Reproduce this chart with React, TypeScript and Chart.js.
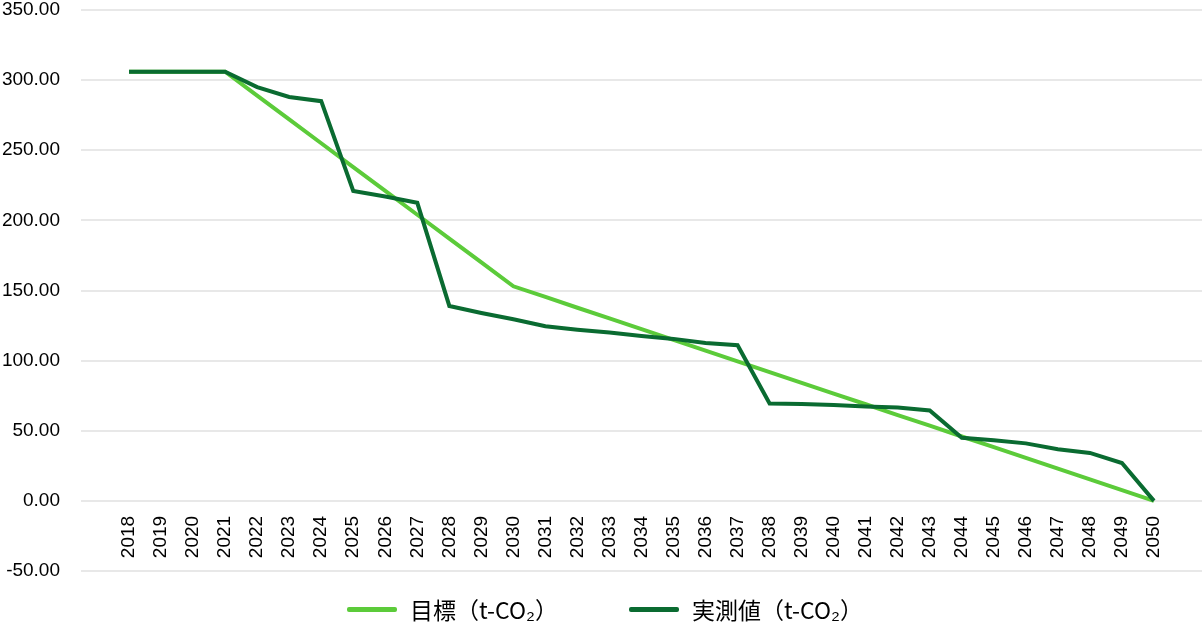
import React, { useEffect, useRef } from 'react';
import { Chart, registerables } from 'chart.js';

Chart.register(...registerables);

const years = [
  2018, 2019, 2020, 2021, 2022, 2023, 2024, 2025, 2026, 2027, 2028,
  2029, 2030, 2031, 2032, 2033, 2034, 2035, 2036, 2037, 2038, 2039,
  2040, 2041, 2042, 2043, 2044, 2045, 2046, 2047, 2048, 2049, 2050,
];

const targetValues = [
  306, 306, 306, 306, 289, 272, 255, 238, 221, 204, 187,
  170, 153, 145.4, 137.7, 130.1, 122.4, 114.8, 107.1, 99.5, 91.8, 84.2,
  76.5, 68.9, 61.2, 53.6, 45.9, 38.3, 30.6, 23.0, 15.3, 7.7, 0,
];

const actualValues = [
  306, 306, 306, 306, 295, 288, 285, 221, 217, 212.5, 139,
  134, 129.5, 124.5, 122, 120, 117.5, 115.5, 112.5, 111, 69.5, 69,
  68.3, 67.3, 66.5, 64.5, 45, 43.3, 41, 36.8, 34.2, 27, 0,
];

const yTickValues = [-50, 0, 50, 100, 150, 200, 250, 300, 350];

const seriesLabels = ['目標（t-CO₂）', '実測値（t-CO₂）'];
const seriesColors = ['#5CCB3A', '#0A6B31'];

export default function App() {
  const ref = useRef<HTMLCanvasElement>(null);

  useEffect(() => {
    const tickFont = { family: '"Liberation Sans", Arial, sans-serif', size: 19, lineHeight: 1.05 };
    const chart = new Chart(ref.current as HTMLCanvasElement, {
      type: 'line',
      data: {
        datasets: [
          {
            label: seriesLabels[0],
            data: years.map((x, i) => ({ x, y: targetValues[i] })),
            borderColor: seriesColors[0],
            backgroundColor: seriesColors[0],
            borderWidth: 4,
            pointRadius: 0,
            tension: 0,
            order: 2,
          },
          {
            label: seriesLabels[1],
            data: years.map((x, i) => ({ x, y: actualValues[i] })),
            borderColor: seriesColors[1],
            backgroundColor: seriesColors[1],
            borderWidth: 4,
            pointRadius: 0,
            tension: 0,
            order: 1,
          },
        ],
      },
      options: {
        animation: false,
        responsive: true,
        maintainAspectRatio: false,
        layout: { padding: { top: 0, right: 0, bottom: 51, left: 0 } },
        plugins: { legend: { display: false }, tooltip: { enabled: false } },
        scales: {
          x: {
            type: 'linear',
            position: { y: 0 } as any,
            min: 2016.5,
            max: 2051.5,
            grid: { display: false },
            border: { display: false },
            afterBuildTicks: (s: any) => {
              s.ticks = years.map((v) => ({ value: v }));
            },
            afterFit: (s: any) => {
              s.paddingLeft = 0;
              s.paddingRight = 0;
            },
            ticks: {
              autoSkip: false,
              minRotation: 90,
              maxRotation: 90,
              padding: 7,
              color: '#000',
              font: tickFont,
              callback: (v: any) => String(v),
            },
          },
          y: {
            type: 'linear',
            min: -50,
            max: 350,
            afterBuildTicks: (s: any) => {
              s.ticks = yTickValues.map((v) => ({ value: v }));
            },
            afterFit: (s: any) => {
              s.width = 81;
              s.paddingTop = 10;
              s.paddingBottom = 10;
            },
            grid: { color: '#e8e8e8', lineWidth: 2, drawTicks: false },
            border: { display: false },
            ticks: {
              padding: 21,
              color: '#000',
              font: tickFont,
              callback: (v: any) => Number(v).toFixed(2),
            },
          },
        },
      },
    });
    return () => chart.destroy();
  }, []);

  const legendLeft = [347, 629];

  return (
    <div style={{ position: 'absolute', left: 0, top: 0, width: 1202, height: 622, background: '#fff' }}>
      <div style={{ position: 'absolute', left: 0, top: 0, width: 1202, height: 622 }}>
        <canvas ref={ref} />
      </div>
      {seriesLabels.map((label, i) => (
        <div
          key={label}
          style={{
            position: 'absolute',
            left: legendLeft[i],
            top: 595,
            height: 28,
            display: 'flex',
            alignItems: 'center',
            fontFamily: '"Noto Sans CJK JP", sans-serif',
            fontSize: 23,
            color: '#000',
            whiteSpace: 'nowrap',
          }}
        >
          <span
            style={{
              display: 'inline-block',
              width: 50,
              height: 5,
              borderRadius: 2,
              background: seriesColors[i],
              marginRight: 13,
            }}
          />
          {label}
        </div>
      ))}
    </div>
  );
}
